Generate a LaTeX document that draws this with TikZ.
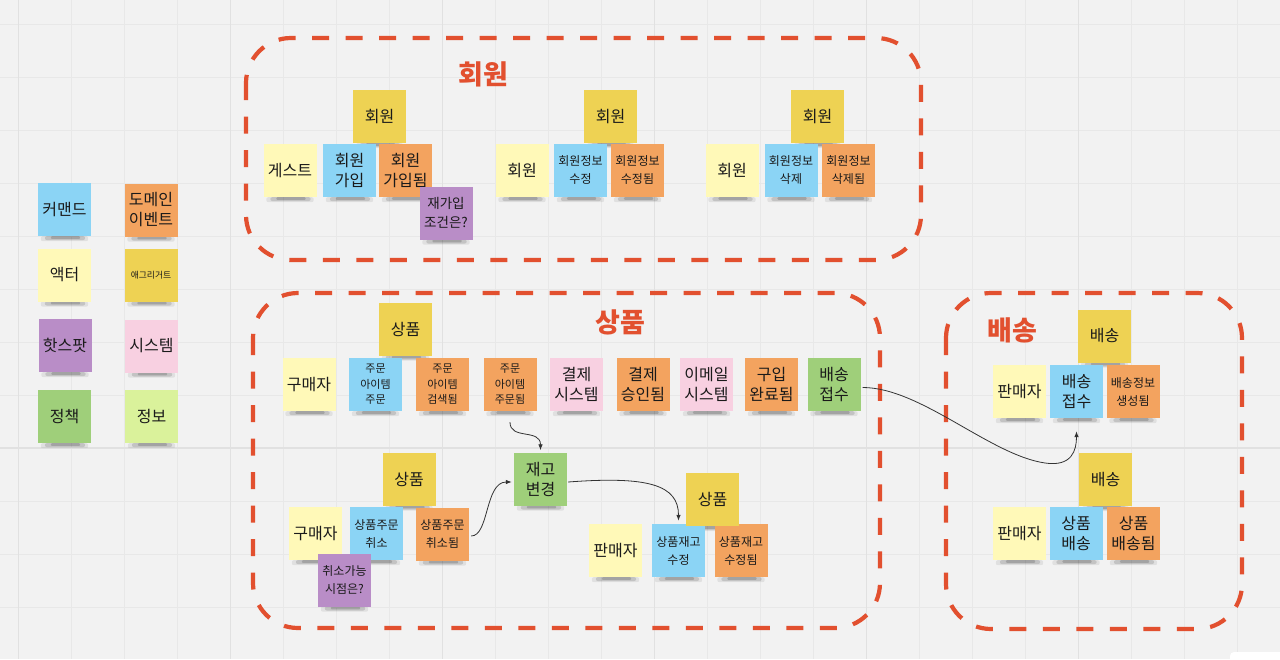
\documentclass[tikz,border=0pt]{standalone}
\usepackage{fontspec}
\setmainfont{Noto Sans CJK KR}
\usetikzlibrary{calc,arrows.meta}
\pgfdeclarelayer{bgl}
\pgfdeclarelayer{shl}
\pgfsetlayers{bgl,shl,main}
\definecolor{bgc}{HTML}{F2F2F2}
\definecolor{gridc}{HTML}{E8E8E8}
\definecolor{majc}{HTML}{E1E1E1}
\definecolor{redc}{HTML}{E2502F}
\definecolor{cmdc}{HTML}{8BD4F5}
\definecolor{evtc}{HTML}{F3A35F}
\definecolor{actc}{HTML}{FFF9B8}
\definecolor{aggc}{HTML}{EED253}
\definecolor{hotc}{HTML}{B98DC7}
\definecolor{sysc}{HTML}{F8D0E1}
\definecolor{polc}{HTML}{9FCF7A}
\definecolor{infc}{HTML}{DAF29B}
\definecolor{txtc}{HTML}{1A1A1A}
\definecolor{arrc}{HTML}{333333}
\tikzset{
  note/.style={rectangle, minimum width=53pt, minimum height=53pt, inner sep=0pt,
    align=center, text=txtc},
  cmd/.style={note, fill=cmdc},
  evt/.style={note, fill=evtc},
  act/.style={note, fill=actc},
  agg/.style={note, fill=aggc},
  hot/.style={note, fill=hotc},
  sys/.style={note, fill=sysc},
  pol/.style={note, fill=polc},
  inf/.style={note, fill=infc},
  fa/.style={font=\fontsize{16}{20}\selectfont},
  fb/.style={font=\fontsize{12}{18}\selectfont},
  fc/.style={font=\fontsize{11}{15.5}\selectfont},
  fd/.style={font=\fontsize{13.5}{19}\selectfont},
  fe/.style={font=\fontsize{8.8}{10}\selectfont},
  ttl/.style={text=redc, font=\fontsize{27}{30}\selectfont\bfseries, inner sep=0pt},
  grp/.style={draw=redc, line width=4.2pt, dash pattern=on 17pt off 16.5pt, rounded corners=45pt},
  arr/.style={draw=arrc, line width=0.8pt, -{Latex[length=6pt,width=4.5pt]}},
}
\newcommand\notesh[1]{%
  \fill[black, opacity=0.07, rounded corners=2pt] ([xshift=3pt]#1.south west) rectangle ([xshift=-3pt,yshift=-5pt]#1.south east);
  \fill[black, opacity=0.13, rounded corners=2pt] ([xshift=7pt]#1.south west) rectangle ([xshift=-6pt,yshift=-3.8pt]#1.south east);
  \fill[black, opacity=0.16, rounded corners=1pt] ([xshift=13pt]#1.south west) rectangle ([xshift=-11pt,yshift=-2.6pt]#1.south east);
}
\begin{document}
\begin{tikzpicture}[x=1pt,y=-1pt]
\useasboundingbox (0,0) rectangle (1280,659);
\begin{pgfonlayer}{bgl}
\fill[bgc] (0,0) rectangle (1280,659);
\foreach \i in {0,...,24} { \draw[gridc, line width=0.8pt] ({18+53*\i},0) -- ({18+53*\i},659); }
\foreach \j in {0,...,12} { \draw[gridc, line width=0.8pt] (0,{24+53*\j}) -- (1280,{24+53*\j}); }
\foreach \i in {0,...,5} { \draw[majc, line width=1pt] ({18+212*\i},0) -- ({18+212*\i},659); }
\draw[majc, line width=1.3pt] (0,448) -- (1280,448);
% group frames
\draw[grp] (246,38) rectangle (921,260);
\draw[grp] (253,293) rectangle (880,628);
\draw[grp] (946,293) rectangle (1242,629);
\end{pgfonlayer}

% titles
\node[ttl] (t1) at (483,74) {회원};
\node[ttl] (t2) at (620,322) {상품};
\node[ttl] (t3) at (1012,330) {배송};

% legend
\node[cmd, fa] (L1) at (64.5,209.5) {커맨드};
\node[evt, fa] (L2) at (151,210) {도메인\\이벤트};
\node[act, fa] (L3) at (64.5,275) {액터};
\node[agg, fe] (L4) at (151,275) {애그리거트};
\node[hot, fa] (L5) at (65,345.5) {핫스팟};
\node[sys, fa] (L6) at (151.5,346) {시스템};
\node[pol, fa] (L7) at (64.5,416.5) {정책};
\node[inf, fa] (L8) at (151.5,416.5) {정보};

% member
\node[agg, fa] (m1agg) at (379.5,116.5) {회원};
\node[act, fa] (m1act) at (290,170.5) {게스트};
\node[cmd, fa] (m1cmd) at (349.5,170.5) {회원\\가입};
\node[evt, fa] (m1evt) at (405.5,170.5) {회원\\가입됨};
\node[hot, fd] (m1hot) at (446,213) {재가입\\조건은?};
\node[agg, fa] (m2agg) at (610.5,116.5) {회원};
\node[act, fa] (m2act) at (522,170.5) {회원};
\node[cmd, fb] (m2cmd) at (580.5,170.5) {회원정보\\수정};
\node[evt, fb] (m2evt) at (637.5,170.5) {회원정보\\수정됨};
\node[agg, fa] (m3agg) at (817.5,116.5) {회원};
\node[act, fa] (m3act) at (732,170.5) {회원};
\node[cmd, fb] (m3cmd) at (791,170.5) {회원정보\\삭제};
\node[evt, fb] (m3evt) at (848.5,170.5) {회원정보\\삭제됨};

% product
\node[agg, fa] (p1agg) at (405.5,329) {상품};
\node[act, fa] (p1act) at (309,384.5) {구매자};
\node[cmd, fc] (p1cmd) at (375.5,384.5) {주문\\아이템\\주문};
\node[evt, fc] (p1evta) at (442.5,384.5) {주문\\아이템\\검색됨};
\node[evt, fc] (p1evtb) at (510,384.5) {주문\\아이템\\주문됨};
\node[sys, fa] (p1sysa) at (576.5,384.5) {결제\\시스템};
\node[evt, fa] (p1evtc) at (643,384.5) {결제\\승인됨};
\node[sys, fa] (p1sysb) at (706.5,384.5) {이메일\\시스템};
\node[evt, fa] (p1evtd) at (771.5,384.5) {구입\\완료됨};
\node[pol, fa] (p1pol) at (834,384.5) {배송\\접수};
\node[pol, fa] (jg) at (540.5,479) {재고\\변경};
\node[agg, fa] (p2agg) at (409,479) {상품};
\node[act, fa] (p2act) at (315.5,533.5) {구매자};
\node[cmd, fb] (p2cmd) at (376.5,533.5) {상품주문\\취소};
\node[evt, fb] (p2evt) at (442.5,534) {상품주문\\취소됨};
\node[hot, fb] (p2hot) at (344.5,580) {취소가능\\시점은?};
\node[act, fa] (p3act) at (615.5,550.5) {판매자};
\node[cmd, fb] (p3cmd) at (678.5,550.5) {상품재고\\수정};
\node[evt, fb] (p3evt) at (741,550.5) {상품재고\\수정됨};
\node[agg, fa] (p3agg) at (712.5,499.5) {상품};

% delivery
\node[agg, fa] (d1agg) at (1104.5,336) {배송};
\node[act, fa] (d1act) at (1019.5,391.5) {판매자};
\node[cmd, fa] (d1cmd) at (1076.5,391.5) {배송\\접수};
\node[evt, fb] (d1evt) at (1133,391.5) {배송정보\\생성됨};
\node[agg, fa] (d2agg) at (1105.5,479.5) {배송};
\node[act, fa] (d2act) at (1019.5,533.5) {판매자};
\node[cmd, fa] (d2cmd) at (1076,533.5) {상품\\배송};
\node[evt, fa] (d2evt) at (1133.5,533.5) {상품\\배송됨};

% shadows
\begin{pgfonlayer}{shl}
\foreach \n in {L1,L2,L3,L4,L5,L6,L7,L8,m1agg,m1act,m1cmd,m1evt,m1hot,m2agg,m2act,m2cmd,m2evt,m3agg,m3act,m3cmd,m3evt,p1agg,p1act,p1cmd,p1evta,p1evtb,p1sysa,p1evtc,p1sysb,p1evtd,p1pol,jg,p2agg,p2act,p2cmd,p2evt,p2hot,p3act,p3cmd,p3evt,p3agg,d1agg,d1act,d1cmd,d1evt,d2agg,d2act,d2cmd,d2evt} {\notesh{\n}}
\end{pgfonlayer}

% connectors
\draw[arr] ($(p1evtb.south)+(0,11)$) .. controls +(0,18) and +(0,-22) .. ($(jg.north)+(0,-2)$);
\draw[arr] ($(p2evt.east)+(2,2)$) .. controls +(18,0) and +(-27,0) .. ($(jg.west)+(-2,3)$);
\draw[arr] ($(jg.east)+(1,3)$) .. controls +(80,-6) and +(0,-36) .. ($(p3cmd.north)+(0,-3)$);
\coordinate (bend4) at (1045,463);
\draw[arr] ($(p1pol.east)+(2,3)$) .. controls +(58,0) and +(-55,-8) .. (bend4) .. controls +(27,4) and +(0,19) .. ($(d1cmd.south)+(0,13)$);

% corner widget
\fill[white, rounded corners=4pt] (1230,652) rectangle (1290,672);
\end{tikzpicture}
\end{document}
